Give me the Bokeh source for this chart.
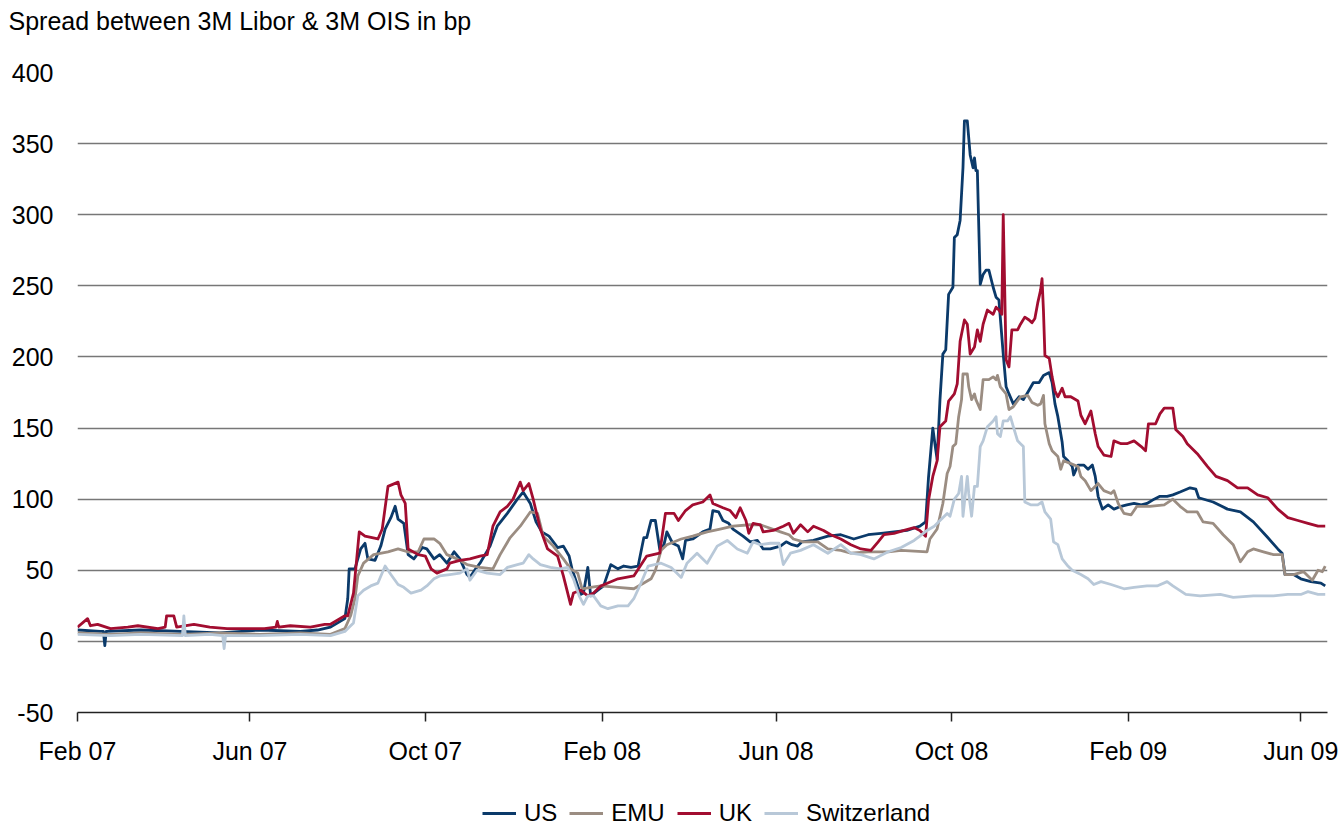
import numpy as np
import pandas as pd
from bokeh.plotting import figure
from bokeh.layouts import column
from bokeh.models import (Range1d, FixedTicker, DatetimeTickFormatter, Legend,
                          LegendItem, ColumnDataSource)
from bokeh.embed import file_html
from bokeh.resources import INLINE

# ---- spread between 3M Libor and 3M OIS, basis points ----
us_dates = [
    "2007-02-01", "2007-02-17", "2007-02-19", "2007-02-20", "2007-02-21", "2007-03-17", "2007-04-14",
    "2007-05-11", "2007-06-08", "2007-07-06", "2007-07-18", "2007-07-27", "2007-08-06", "2007-08-08",
    "2007-08-09", "2007-08-13", "2007-08-17", "2007-08-20", "2007-08-22", "2007-08-27", "2007-08-31",
    "2007-09-03", "2007-09-07", "2007-09-10", "2007-09-12", "2007-09-16", "2007-09-19", "2007-09-23",
    "2007-09-29", "2007-10-02", "2007-10-07", "2007-10-11", "2007-10-16", "2007-10-21", "2007-10-25",
    "2007-10-30", "2007-11-01", "2007-11-05", "2007-11-08", "2007-11-15", "2007-11-20", "2007-11-27",
    "2007-12-04", "2007-12-08", "2007-12-13", "2007-12-17", "2007-12-21", "2007-12-26", "2008-01-01",
    "2008-01-05", "2008-01-09", "2008-01-11", "2008-01-15", "2008-01-17", "2008-01-19", "2008-01-22",
    "2008-01-24", "2008-01-29", "2008-02-02", "2008-02-07", "2008-02-12", "2008-02-16", "2008-02-21",
    "2008-02-26", "2008-03-01", "2008-03-03", "2008-03-06", "2008-03-09", "2008-03-12", "2008-03-15",
    "2008-03-17", "2008-03-21", "2008-03-25", "2008-03-28", "2008-03-30", "2008-04-04", "2008-04-11",
    "2008-04-16", "2008-04-18", "2008-04-22", "2008-04-25", "2008-04-29", "2008-05-02", "2008-05-09",
    "2008-05-14", "2008-05-19", "2008-05-23", "2008-05-28", "2008-06-04", "2008-06-08", "2008-06-12",
    "2008-06-16", "2008-06-19", "2008-06-27", "2008-07-07", "2008-07-16", "2008-07-25", "2008-08-04",
    "2008-08-13", "2008-08-22", "2008-08-31", "2008-09-09", "2008-09-13", "2008-09-15", "2008-09-18",
    "2008-09-20", "2008-09-21", "2008-09-23", "2008-09-25", "2008-09-27", "2008-09-29", "2008-10-02",
    "2008-10-03", "2008-10-05", "2008-10-07", "2008-10-09", "2008-10-10", "2008-10-12", "2008-10-14",
    "2008-10-16", "2008-10-17", "2008-10-18", "2008-10-19", "2008-10-21", "2008-10-23", "2008-10-25",
    "2008-10-27", "2008-10-30", "2008-11-01", "2008-11-03", "2008-11-06", "2008-11-08", "2008-11-10",
    "2008-11-13", "2008-11-17", "2008-11-20", "2008-11-23", "2008-11-27", "2008-12-01", "2008-12-04",
    "2008-12-08", "2008-12-10", "2008-12-12", "2008-12-14", "2008-12-17", "2008-12-18", "2008-12-21",
    "2008-12-24", "2008-12-25", "2008-12-28", "2009-01-01", "2009-01-04", "2009-01-07", "2009-01-09",
    "2009-01-11", "2009-01-14", "2009-01-18", "2009-01-22", "2009-01-27", "2009-01-31", "2009-02-05",
    "2009-02-10", "2009-02-14", "2009-02-19", "2009-02-23", "2009-02-28", "2009-03-04", "2009-03-09",
    "2009-03-16", "2009-03-20", "2009-03-22", "2009-04-01", "2009-04-11", "2009-04-20", "2009-04-29",
    "2009-05-09", "2009-05-16", "2009-05-19", "2009-05-21", "2009-05-27", "2009-06-01", "2009-06-08",
    "2009-06-15", "2009-06-18",
]
us_bp = [
    8, 7, 7, -3, 7, 8, 7,
    6, 8, 7, 8, 10, 16, 30,
    51, 51, 65, 69, 58, 57, 67,
    79, 87, 95, 86, 83, 61, 58,
    66, 65, 58, 61, 55, 63, 58,
    47, 45, 51, 55, 67, 81, 90,
    100, 105, 97, 84, 77, 74, 66,
    67, 60, 51, 39, 33, 34, 52,
    32, 36, 39, 54, 51, 53, 52,
    53, 73, 73, 85, 85, 65, 68,
    77, 69, 67, 58, 71, 72, 77,
    79, 92, 91, 85, 83, 79, 74,
    70, 71, 65, 65, 67, 70, 68,
    67, 70, 71, 74, 75, 72, 75,
    76, 77, 78, 81, 84, 115, 150,
    135, 128, 170, 202, 205, 244, 249,
    284, 286, 296, 333, 366, 366, 342,
    333, 340, 331, 331, 251, 258, 261,
    261, 249, 242, 240, 202, 179, 174,
    167, 172, 170, 175, 182, 182, 187,
    189, 182, 167, 158, 140, 130, 127,
    123, 117, 124, 124, 121, 124, 116,
    102, 93, 96, 93, 95, 96, 97,
    96, 97, 100, 102, 102, 103, 105,
    108, 107, 101, 98, 93, 91, 84,
    73, 65, 62, 47, 47, 44, 42,
    41, 39,
]

emu_dates = [
    "2007-02-01", "2007-02-24", "2007-03-17", "2007-04-14", "2007-05-11", "2007-06-08", "2007-07-06",
    "2007-07-27", "2007-08-06", "2007-08-10", "2007-08-13", "2007-08-15", "2007-08-19", "2007-08-26",
    "2007-09-05", "2007-09-12", "2007-09-19", "2007-09-26", "2007-09-30", "2007-10-07", "2007-10-11",
    "2007-10-16", "2007-10-23", "2007-10-30", "2007-11-08", "2007-11-17", "2007-11-22", "2007-11-29",
    "2007-12-06", "2007-12-13", "2007-12-18", "2007-12-22", "2007-12-29", "2008-01-05", "2008-01-10",
    "2008-01-15", "2008-01-18", "2008-01-24", "2008-01-31", "2008-02-12", "2008-02-23", "2008-03-01",
    "2008-03-06", "2008-03-09", "2008-03-13", "2008-03-17", "2008-03-27", "2008-04-04", "2008-04-14",
    "2008-04-23", "2008-05-02", "2008-05-14", "2008-05-21", "2008-06-04", "2008-06-10", "2008-06-13",
    "2008-06-20", "2008-06-30", "2008-07-07", "2008-07-16", "2008-07-23", "2008-08-04", "2008-08-18",
    "2008-08-27", "2008-09-14", "2008-09-16", "2008-09-21", "2008-09-23", "2008-09-25", "2008-09-28",
    "2008-09-30", "2008-10-02", "2008-10-04", "2008-10-06", "2008-10-08", "2008-10-09", "2008-10-12",
    "2008-10-13", "2008-10-15", "2008-10-17", "2008-10-18", "2008-10-21", "2008-10-23", "2008-10-27",
    "2008-10-30", "2008-11-01", "2008-11-02", "2008-11-04", "2008-11-08", "2008-11-10", "2008-11-13",
    "2008-11-18", "2008-11-23", "2008-11-26", "2008-11-30", "2008-12-02", "2008-12-04", "2008-12-05",
    "2008-12-08", "2008-12-10", "2008-12-14", "2008-12-16", "2008-12-18", "2008-12-23", "2008-12-28",
    "2008-12-30", "2009-01-02", "2009-01-06", "2009-01-11", "2009-01-15", "2009-01-20", "2009-01-22",
    "2009-01-25", "2009-01-29", "2009-02-03", "2009-02-07", "2009-02-16", "2009-02-26", "2009-03-04",
    "2009-03-09", "2009-03-14", "2009-03-21", "2009-03-25", "2009-04-01", "2009-04-08", "2009-04-15",
    "2009-04-20", "2009-04-25", "2009-04-29", "2009-05-06", "2009-05-13", "2009-05-19", "2009-05-21",
    "2009-05-27", "2009-06-03", "2009-06-09", "2009-06-13", "2009-06-16", "2009-06-18",
]
emu_bp = [
    6, 5, 6, 5, 6, 5, 6,
    5, 9, 18, 30, 46, 55, 61,
    63, 65, 63, 63, 72, 72, 69,
    61, 58, 54, 52, 51, 61, 73,
    81, 91, 90, 74, 67, 58, 51,
    48, 37, 38, 39, 38, 37, 41,
    44, 50, 64, 68, 72, 74, 77,
    79, 81, 82, 82, 77, 75, 72,
    70, 70, 65, 64, 62, 63, 63,
    64, 63, 72, 79, 88, 97, 118,
    123, 137, 139, 158, 170, 188, 188,
    179, 170, 174, 170, 163, 184, 184,
    186, 184, 187, 179, 174, 163, 165,
    172, 173, 168, 166, 167, 173, 153,
    139, 134, 130, 121, 127, 125, 123,
    116, 113, 106, 111, 106, 104, 106,
    97, 90, 89, 95, 95, 96, 100,
    95, 91, 91, 84, 83, 75, 68,
    56, 63, 65, 63, 61, 61, 47,
    47, 49, 43, 50, 49, 53,
]

uk_dates = [
    "2007-02-01", "2007-02-08", "2007-02-10", "2007-02-15", "2007-02-24", "2007-03-08", "2007-03-15",
    "2007-03-29", "2007-04-03", "2007-04-04", "2007-04-09", "2007-04-11", "2007-04-23", "2007-05-04",
    "2007-05-16", "2007-05-28", "2007-06-11", "2007-06-19", "2007-06-20", "2007-06-21", "2007-06-29",
    "2007-07-13", "2007-07-23", "2007-07-27", "2007-08-06", "2007-08-08", "2007-08-12", "2007-08-16",
    "2007-08-20", "2007-08-29", "2007-09-01", "2007-09-05", "2007-09-12", "2007-09-14", "2007-09-17",
    "2007-09-19", "2007-09-26", "2007-10-01", "2007-10-05", "2007-10-09", "2007-10-16", "2007-10-18",
    "2007-10-25", "2007-11-01", "2007-11-08", "2007-11-13", "2007-11-17", "2007-11-22", "2007-11-27",
    "2007-12-01", "2007-12-06", "2007-12-08", "2007-12-12", "2007-12-15", "2007-12-20", "2007-12-25",
    "2008-01-01", "2008-01-05", "2008-01-10", "2008-01-12", "2008-01-17", "2008-01-22", "2008-01-26",
    "2008-01-31", "2008-02-12", "2008-02-23", "2008-03-03", "2008-03-12", "2008-03-16", "2008-03-22",
    "2008-03-25", "2008-03-30", "2008-04-04", "2008-04-11", "2008-04-16", "2008-04-18", "2008-04-25",
    "2008-04-30", "2008-05-04", "2008-05-07", "2008-05-11", "2008-05-13", "2008-05-16", "2008-05-21",
    "2008-05-23", "2008-05-30", "2008-06-06", "2008-06-10", "2008-06-13", "2008-06-18", "2008-06-23",
    "2008-06-27", "2008-07-04", "2008-07-09", "2008-07-16", "2008-07-23", "2008-07-30", "2008-08-06",
    "2008-08-11", "2008-08-15", "2008-08-22", "2008-08-29", "2008-09-05", "2008-09-09", "2008-09-13",
    "2008-09-15", "2008-09-18", "2008-09-21", "2008-09-23", "2008-09-27", "2008-09-29", "2008-10-03",
    "2008-10-05", "2008-10-07", "2008-10-10", "2008-10-12", "2008-10-14", "2008-10-17", "2008-10-19",
    "2008-10-21", "2008-10-23", "2008-10-26", "2008-10-30", "2008-11-01", "2008-11-03", "2008-11-05",
    "2008-11-06", "2008-11-08", "2008-11-10", "2008-11-12", "2008-11-16", "2008-11-18", "2008-11-21",
    "2008-11-24", "2008-11-26", "2008-11-28", "2008-11-30", "2008-12-02", "2008-12-03", "2008-12-04",
    "2008-12-05", "2008-12-08", "2008-12-10", "2008-12-12", "2008-12-14", "2008-12-17", "2008-12-19",
    "2008-12-23", "2008-12-28", "2008-12-30", "2009-01-02", "2009-01-06", "2009-01-09", "2009-01-11",
    "2009-01-15", "2009-01-20", "2009-01-22", "2009-01-27", "2009-01-31", "2009-02-05", "2009-02-10",
    "2009-02-13", "2009-02-15", "2009-02-20", "2009-02-23", "2009-02-26", "2009-03-04", "2009-03-06",
    "2009-03-11", "2009-03-14", "2009-03-21", "2009-03-28", "2009-04-03", "2009-04-11", "2009-04-18",
    "2009-04-25", "2009-05-02", "2009-05-09", "2009-05-16", "2009-05-23", "2009-05-30", "2009-06-06",
    "2009-06-13", "2009-06-18",
]
uk_bp = [
    10, 16, 11, 12, 9, 10, 11,
    9, 10, 18, 18, 10, 12, 10,
    9, 9, 9, 10, 14, 10, 11,
    10, 12, 12, 18, 18, 34, 77,
    74, 72, 79, 109, 112, 103, 97,
    65, 61, 60, 51, 48, 51, 55,
    57, 58, 60, 61, 81, 91, 95,
    100, 112, 106, 111, 100, 79, 65,
    60, 46, 26, 34, 36, 32, 34,
    39, 44, 46, 60, 62, 90, 90,
    85, 92, 96, 98, 103, 97, 94,
    92, 87, 94, 85, 76, 83, 82,
    77, 78, 81, 83, 76, 82, 77,
    81, 78, 75, 72, 68, 65, 64,
    70, 75, 76, 78, 80, 78, 74,
    99, 116, 127, 151, 155, 169, 174,
    181, 211, 226, 223, 202, 207, 219,
    211, 223, 233, 230, 235, 233, 230,
    300, 198, 193, 219, 219, 223, 228,
    226, 224, 227, 238, 247, 255, 232,
    201, 199, 186, 176, 172, 178, 172,
    172, 169, 159, 153, 162, 146, 137,
    131, 130, 141, 139, 139, 141, 137,
    134, 153, 153, 160, 164, 164, 149,
    144, 139, 132, 123, 116, 113, 108,
    108, 103, 101, 93, 87, 85, 83,
    81, 81,
]

ch_dates = [
    "2007-02-01", "2007-02-24", "2007-03-17", "2007-04-15", "2007-04-16", "2007-04-17", "2007-05-04",
    "2007-05-13", "2007-05-14", "2007-05-15", "2007-06-08", "2007-07-06", "2007-07-27", "2007-08-06",
    "2007-08-10", "2007-08-12", "2007-08-15", "2007-08-19", "2007-08-24", "2007-08-29", "2007-09-03",
    "2007-09-07", "2007-09-12", "2007-09-16", "2007-09-21", "2007-09-28", "2007-10-02", "2007-10-07",
    "2007-10-11", "2007-10-18", "2007-10-25", "2007-10-30", "2007-11-01", "2007-11-06", "2007-11-13",
    "2007-11-22", "2007-11-27", "2007-12-04", "2007-12-08", "2007-12-12", "2007-12-15", "2007-12-20",
    "2007-12-27", "2008-01-03", "2008-01-08", "2008-01-12", "2008-01-16", "2008-01-19", "2008-01-22",
    "2008-01-26", "2008-01-31", "2008-02-05", "2008-02-12", "2008-02-19", "2008-02-23", "2008-02-28",
    "2008-03-04", "2008-03-13", "2008-03-20", "2008-03-27", "2008-03-31", "2008-04-07", "2008-04-14",
    "2008-04-21", "2008-04-28", "2008-05-05", "2008-05-12", "2008-05-16", "2008-05-21", "2008-05-28",
    "2008-06-03", "2008-06-06", "2008-06-11", "2008-06-18", "2008-06-27", "2008-07-07", "2008-07-16",
    "2008-07-23", "2008-07-30", "2008-08-08", "2008-08-18", "2008-08-27", "2008-09-05", "2008-09-09",
    "2008-09-14", "2008-09-19", "2008-09-23", "2008-09-28", "2008-09-30", "2008-10-03", "2008-10-06",
    "2008-10-08", "2008-10-09", "2008-10-12", "2008-10-13", "2008-10-15", "2008-10-17", "2008-10-19",
    "2008-10-21", "2008-10-23", "2008-10-26", "2008-10-30", "2008-11-01", "2008-11-02", "2008-11-04",
    "2008-11-06", "2008-11-09", "2008-11-11", "2008-11-13", "2008-11-16", "2008-11-18", "2008-11-20",
    "2008-11-21", "2008-11-25", "2008-11-30", "2008-12-03", "2008-12-05", "2008-12-09", "2008-12-11",
    "2008-12-14", "2008-12-17", "2008-12-21", "2008-12-24", "2008-12-30", "2009-01-04", "2009-01-08",
    "2009-01-13", "2009-01-20", "2009-01-29", "2009-02-05", "2009-02-14", "2009-02-21", "2009-02-28",
    "2009-03-04", "2009-03-13", "2009-03-23", "2009-04-06", "2009-04-15", "2009-04-29", "2009-05-13",
    "2009-05-23", "2009-06-01", "2009-06-06", "2009-06-13", "2009-06-18",
]
ch_bp = [
    5, 4, 5, 4, 18, 4, 5,
    4, -5, 4, 4, 5, 4, 7,
    11, 13, 32, 36, 39, 41, 53,
    47, 40, 38, 34, 36, 39, 44,
    46, 47, 48, 51, 43, 50, 48,
    47, 52, 54, 55, 61, 58, 54,
    52, 51, 52, 44, 32, 26, 32,
    32, 25, 23, 25, 25, 30, 41,
    53, 55, 52, 45, 55, 62, 55,
    67, 71, 65, 62, 70, 68, 69,
    69, 54, 62, 64, 68, 62, 68,
    62, 61, 58, 63, 66, 71, 74,
    78, 81, 85, 90, 88, 100, 104,
    116, 88, 116, 104, 88, 109, 109,
    137, 141, 151, 155, 158, 146, 144,
    155, 155, 158, 151, 141, 139, 137,
    98, 96, 96, 98, 91, 86, 70,
    68, 58, 53, 50, 47, 44, 40,
    42, 40, 37, 38, 39, 39, 42,
    39, 33, 32, 33, 31, 32, 32,
    33, 33, 35, 33, 33,
]

series_names = ["US", "EMU", "UK", "Switzerland"]
series_colors = ["#0b3a6a", "#9b8d82", "#a20d30", "#b8c8d8"]

y_ticks = [-50, 0, 50, 100, 150, 200, 250, 300, 350, 400]
x_tick_dates = ["2007-02-01", "2007-06-01", "2007-10-01", "2008-02-01",
                "2008-06-01", "2008-10-01", "2009-02-01", "2009-06-01"]

heading = "Spread between 3M Libor & 3M OIS in bp"

FONT = "Liberation Sans"
LINE_W = 2.8
PAGE_W = 1344
LEFT, RIGHT = 77, 17


def blank_strip(height):
    """An axis-free figure used to hold text above or below the chart."""
    f = figure(width=PAGE_W, height=height, output_backend="svg",
               toolbar_location=None, x_range=Range1d(0, 1), y_range=Range1d(0, 1),
               x_axis_location=None, y_axis_location=None,
               min_border_left=LEFT, min_border_right=RIGHT,
               min_border_top=0, min_border_bottom=0)
    f.grid.visible = False
    f.outline_line_color = None
    f.background_fill_color = "white"
    f.border_fill_color = "white"
    return f


# ---- heading strip ----
head_fig = blank_strip(52)
head_fig.title.text = heading
head_fig.title.align = "left"
head_fig.title.offset = -69
head_fig.title.standoff = 9
head_fig.title.vertical_align = "bottom"
head_fig.title.text_font = FONT
head_fig.title.text_font_size = "25px"
head_fig.title.text_font_style = "normal"
head_fig.title.text_color = "#000000"

# ---- main chart ----
p = figure(
    width=PAGE_W, height=715,
    x_axis_type="datetime",
    x_range=Range1d(pd.Timestamp("2007-02-01"), pd.Timestamp("2009-06-19 14:00")),
    y_range=Range1d(-50, 400),
    output_backend="svg", toolbar_location=None,
    min_border_left=LEFT, min_border_right=RIGHT, min_border_top=20, min_border_bottom=54,
)
p.outline_line_color = None
p.background_fill_color = "white"
p.border_fill_color = "white"

# y axis: labels only
p.yaxis.ticker = FixedTicker(ticks=y_ticks)
p.yaxis.major_label_overrides = {-50: "-50"}
p.yaxis.axis_line_color = None
p.yaxis.major_tick_line_color = None
p.yaxis.minor_tick_line_color = None
p.yaxis.major_tick_out = 0
p.yaxis.major_tick_in = 0
p.yaxis.major_label_standoff = 24
p.yaxis.major_label_text_font = FONT
p.yaxis.major_label_text_font_size = "25px"
p.yaxis.major_label_text_color = "#000000"

# x axis: month ticks every four months
tick_ms = [pd.Timestamp(d).value / 1e6 for d in x_tick_dates]
p.xaxis.ticker = FixedTicker(ticks=tick_ms)
fmt = "%b %y"
p.xaxis.formatter = DatetimeTickFormatter(
    milliseconds=fmt, seconds=fmt, minsec=fmt, minutes=fmt, hourmin=fmt,
    hours=fmt, days=fmt, months=fmt, years=fmt)
p.xaxis.axis_line_color = "#222222"
p.xaxis.axis_line_width = 1.5
p.xaxis.major_tick_line_color = "#222222"
p.xaxis.major_tick_line_width = 1.5
p.xaxis.major_tick_out = 9
p.xaxis.major_tick_in = 0
p.xaxis.minor_tick_line_color = None
p.xaxis.major_label_standoff = 15
p.xaxis.major_label_text_font = FONT
p.xaxis.major_label_text_font_size = "25px"
p.xaxis.major_label_text_color = "#000000"

p.xgrid.visible = False
p.ygrid.ticker = FixedTicker(ticks=y_ticks)
p.ygrid.grid_line_color = "#777777"
p.ygrid.grid_line_width = 1.3

all_dates = [us_dates, emu_dates, uk_dates, ch_dates]
all_vals = [us_bp, emu_bp, uk_bp, ch_bp]

for color, d, v in zip(series_colors, all_dates, all_vals):
    src = ColumnDataSource(dict(date=pd.to_datetime(d), bp=v))
    p.line("date", "bp", source=src, line_color=color, line_width=LINE_W,
           line_join="round")

# ---- legend strip underneath the chart ----
leg_fig = blank_strip(60)
items = []
for name, color in zip(series_names, series_colors):
    # a key-only renderer: one NaN point, so nothing is drawn in the strip itself
    key = leg_fig.line(x=np.array([np.nan]), y=np.array([np.nan]),
                       line_color=color, line_width=LINE_W)
    items.append(LegendItem(label=name, renderers=[key]))

legend = Legend(
    items=items, orientation="horizontal", location=(405, 0),
    label_text_font=FONT, label_text_font_size="24px", label_text_color="#000000",
    glyph_width=34, glyph_height=20, label_standoff=8, spacing=12,
    padding=0, margin=0, border_line_color=None, background_fill_alpha=0,
)
leg_fig.add_layout(legend, "center")

layout = column(head_fig, p, leg_fig, spacing=0)
open("out.html", "w").write(file_html(layout, INLINE))
